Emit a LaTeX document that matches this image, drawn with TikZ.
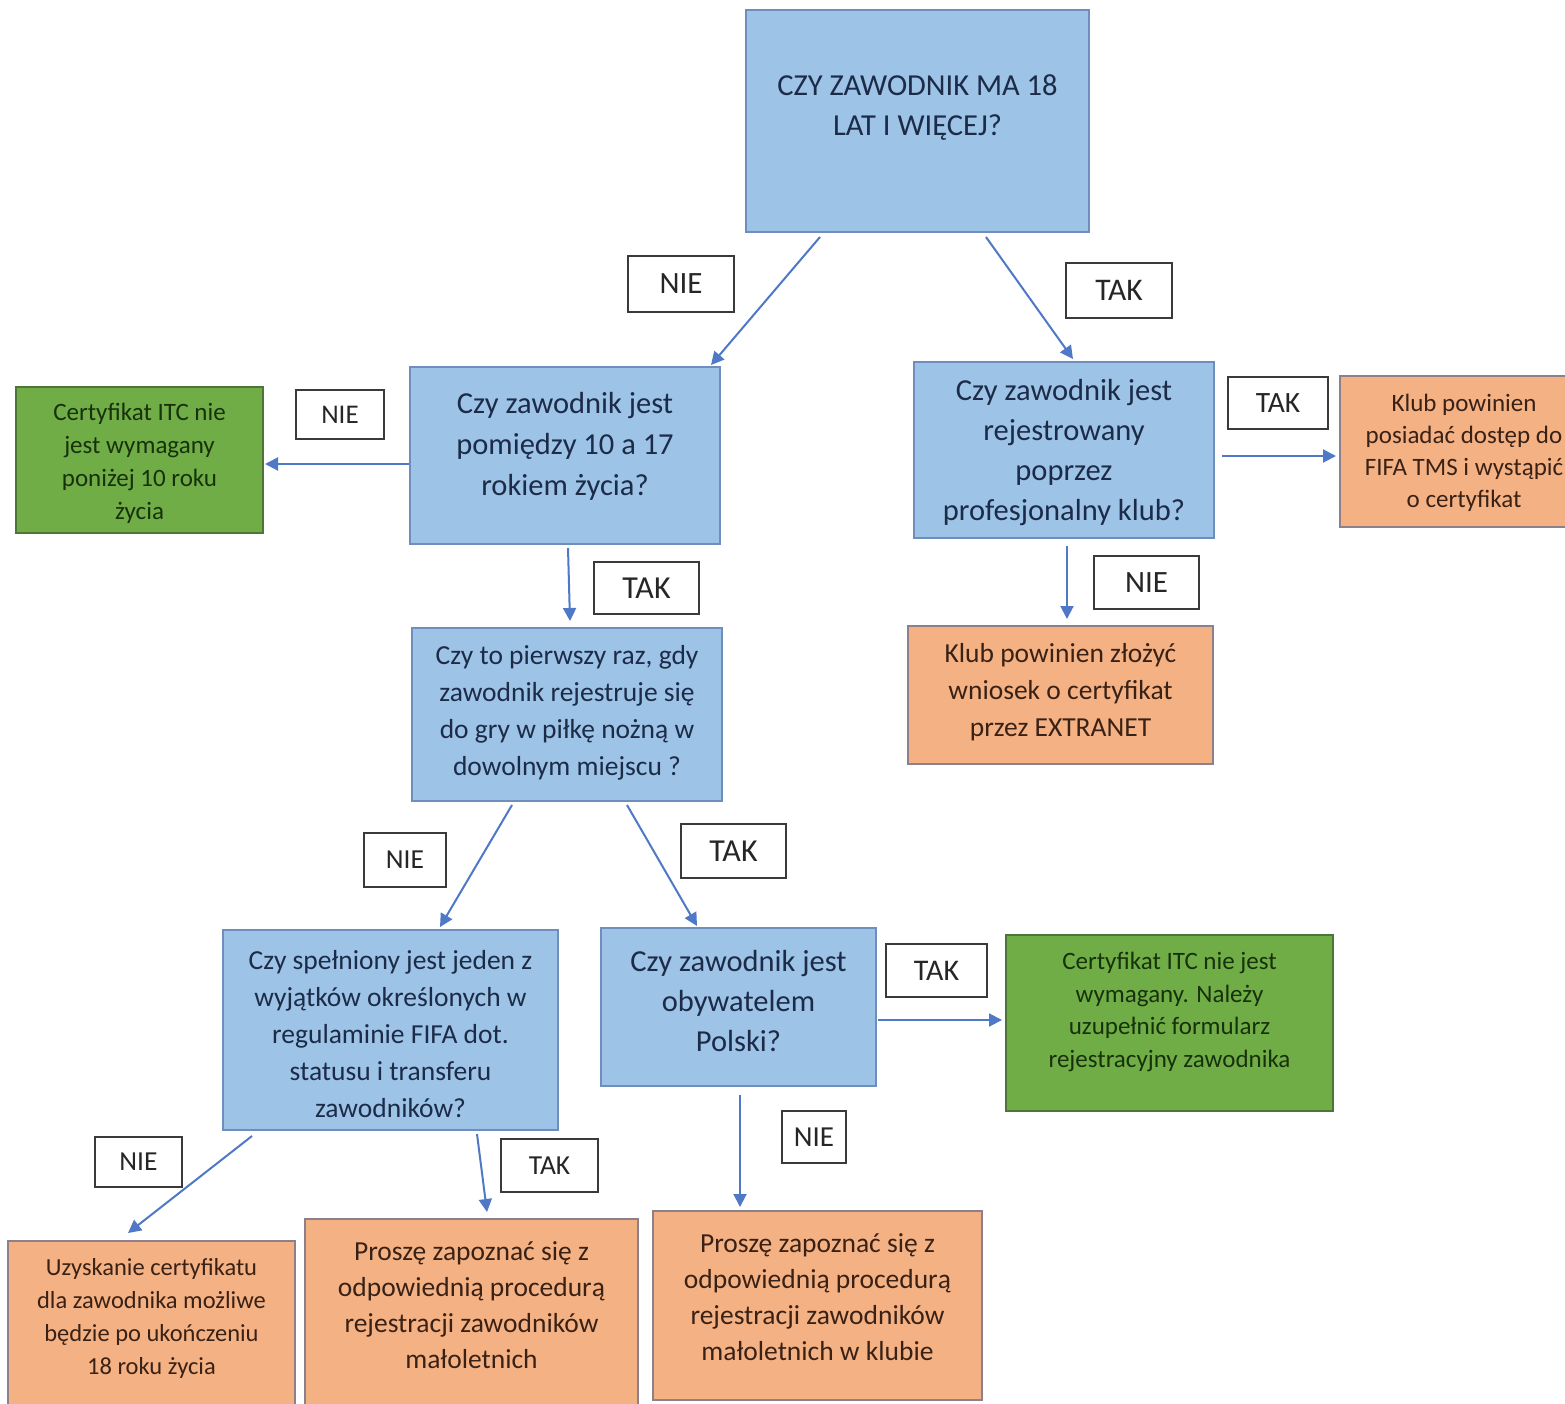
\documentclass[tikz,border=0pt]{standalone}
\usepackage{fontspec}
\setmainfont{Carlito}
\usetikzlibrary{arrows.meta}
\definecolor{bfill}{HTML}{9DC3E6}
\definecolor{bdraw}{HTML}{6F8EBC}
\definecolor{btext}{HTML}{1C2B48}
\definecolor{gfill}{HTML}{70AD47}
\definecolor{gdraw}{HTML}{4D7537}
\definecolor{gtext}{HTML}{17320B}
\definecolor{ofill}{HTML}{F4B183}
\definecolor{odraw}{HTML}{8E8089}
\definecolor{otext}{HTML}{3A2115}
\definecolor{arr}{HTML}{4F78C6}
\definecolor{ldraw}{HTML}{3A3A3A}
\begin{document}
\begin{tikzpicture}[x=1pt,y=-1pt,
  bbox/.style={draw=bdraw,fill=bfill,line width=2pt,inner sep=0pt},
  gbox/.style={draw=gdraw,fill=gfill,line width=2pt,inner sep=0pt},
  obox/.style={draw=odraw,fill=ofill,line width=2pt,inner sep=0pt},
  btxt/.style={align=center,text=btext,inner sep=0pt},
  gtxt/.style={align=center,text=gtext,inner sep=0pt},
  otxt/.style={align=center,text=otext,inner sep=0pt},
  lab/.style={draw=ldraw,fill=white,line width=2pt,inner sep=0pt,text=black!85},
  con/.style={draw=arr,line width=2pt,-{Triangle[length=13pt,width=13pt]}}
]
\useasboundingbox[fill=white] (0,0) rectangle (1565,1403);

% ---- boxes ----
\node[bbox,minimum width=343pt,minimum height=222pt] (top) at (917.5,121) {};
\node[btxt,font=\fontsize{30.5}{40}\selectfont] (topt) at (917.5,108) {CZY ZAWODNIK MA 18\\LAT I WIĘCEJ?};

\node[bbox,minimum width=310pt,minimum height=177pt] (b1) at (565,455.5) {};
\node[btxt,font=\fontsize{30.5}{41}\selectfont] (b1t) at (565,446) {Czy zawodnik jest\\pomiędzy 10 a 17\\rokiem życia?};

\node[gbox,minimum width=247pt,minimum height=146pt] (g1) at (139.5,460) {};
\node[gtxt,font=\fontsize{25}{33}\selectfont] (g1t) at (139.5,463) {Certyfikat ITC nie\\jest wymagany\\poniżej 10 roku\\życia};

\node[bbox,minimum width=300pt,minimum height=176pt] (b2) at (1064,450) {};
\node[btxt,font=\fontsize{30.5}{40}\selectfont] (b2t) at (1064,453) {Czy zawodnik jest\\rejestrowany\\poprzez\\profesjonalny klub?};

\node[obox,minimum width=248pt,minimum height=151pt] (o1) at (1464,451.5) {};
\node[otxt,font=\fontsize{25}{32}\selectfont] (o1t) at (1464,453) {Klub powinien\\posiadać dostęp do\\FIFA TMS i wystąpić\\o certyfikat};

\node[obox,minimum width=305pt,minimum height=138pt] (o2) at (1060.5,695) {};
\node[otxt,font=\fontsize{27.5}{37}\selectfont] (o2t) at (1060.5,692) {Klub powinien złożyć\\wniosek o certyfikat\\przez EXTRANET};

\node[bbox,minimum width=310pt,minimum height=173pt] (b3) at (567,714.5) {};
\node[btxt,font=\fontsize{27.5}{37}\selectfont] (b3t) at (567,713) {Czy to pierwszy raz, gdy\\zawodnik rejestruje się\\do gry w piłkę nożną w\\dowolnym miejscu ?};

\node[bbox,minimum width=335pt,minimum height=200pt] (b4) at (390.5,1030) {};
\node[btxt,font=\fontsize{27.5}{37}\selectfont] (b4t) at (390.5,1034) {Czy spełniony jest jeden z\\wyjątków określonych w\\regulaminie FIFA dot.\\statusu i transferu\\zawodników?};

\node[bbox,minimum width=275pt,minimum height=158pt] (b5) at (738.5,1007) {};
\node[btxt,font=\fontsize{30.5}{40}\selectfont] (b5t) at (738.5,1001) {Czy zawodnik jest\\obywatelem\\Polski?};

\node[gbox,minimum width=327pt,minimum height=176pt] (g2) at (1169.5,1023) {};
\node[gtxt,font=\fontsize{25}{32.5}\selectfont] (g2t) at (1169.5,1012) {Certyfikat ITC nie jest\\wymagany. Należy\\uzupełnić formularz\\rejestracyjny zawodnika};

\node[obox,minimum width=287pt,minimum height=190pt] (o3) at (151.5,1336) {};
\node[otxt,font=\fontsize{24.5}{33}\selectfont] (o3t) at (151.5,1318) {Uzyskanie certyfikatu\\dla zawodnika możliwe\\będzie po ukończeniu\\18 roku życia};

\node[obox,minimum width=333pt,minimum height=200pt] (o4) at (471.5,1319) {};
\node[otxt,font=\fontsize{27.5}{36}\selectfont] (o4t) at (471.5,1305) {Proszę zapoznać się z\\odpowiednią procedurą\\rejestracji zawodników\\małoletnich};

\node[obox,minimum width=329pt,minimum height=189pt] (o5) at (817.5,1305.5) {};
\node[otxt,font=\fontsize{27.5}{36}\selectfont] (o5t) at (817.5,1297) {Proszę zapoznać się z\\odpowiednią procedurą\\rejestracji zawodników\\małoletnich w klubie};

% ---- labels ----
\node[lab,font=\fontsize{31}{36}\selectfont,minimum width=106pt,minimum height=56pt] (l1) at (681,284) {NIE};
\node[lab,font=\fontsize{31.5}{36}\selectfont,minimum width=106pt,minimum height=55pt] (l2) at (1119,290.5) {TAK};
\node[lab,font=\fontsize{27}{32}\selectfont,minimum width=88pt,minimum height=49pt] (l3) at (340,414.5) {NIE};
\node[lab,font=\fontsize{29.5}{34}\selectfont,minimum width=100pt,minimum height=52pt] (l4) at (1278,403) {TAK};
\node[lab,font=\fontsize{32}{36}\selectfont,minimum width=105pt,minimum height=52pt] (l5) at (646.5,588) {TAK};
\node[lab,font=\fontsize{31}{36}\selectfont,minimum width=105pt,minimum height=53pt] (l6) at (1146.5,582.5) {NIE};
\node[lab,font=\fontsize{27.5}{32}\selectfont,minimum width=82pt,minimum height=54pt] (l7) at (405,860) {NIE};
\node[lab,font=\fontsize{32}{36}\selectfont,minimum width=105pt,minimum height=54pt] (l8) at (733.5,851) {TAK};
\node[lab,font=\fontsize{30}{34}\selectfont,minimum width=101pt,minimum height=53pt] (l9) at (936.5,970.5) {TAK};
\node[lab,font=\fontsize{27.5}{32}\selectfont,minimum width=87pt,minimum height=50pt] (l10) at (138.5,1162) {NIE};
\node[lab,font=\fontsize{27.5}{32}\selectfont,minimum width=97pt,minimum height=53pt] (l11) at (549.5,1165.5) {TAK};
\node[lab,font=\fontsize{29}{34}\selectfont,minimum width=64pt,minimum height=52pt] (l12) at (814,1137) {NIE};

% ---- connector start points ----
\coordinate (s1) at (820,237);
\coordinate (s2) at (986,237);
\coordinate (s3) at (409,464);
\coordinate (s4) at (1222,456);
\coordinate (s5) at (568,548);
\coordinate (s6) at (1067,546);
\coordinate (s7) at (512,805);
\coordinate (s8) at (627,805);
\coordinate (s9) at (878,1020);
\coordinate (s10) at (252,1136);
\coordinate (s11) at (477,1134);
\coordinate (s12) at (740,1095);

% ---- connectors ----
\draw[con] (s1) -- ([xshift=-10pt,yshift=1pt]b1.north east);
\draw[con] (s2) -- ([xshift=9pt,yshift=2pt]b2.north);
\draw[con] (s3) -- ([xshift=1pt]g1.east |- s3);
\draw[con] (s4) -- ([xshift=-3pt]o1.west |- s4);
\draw[con] (s5) -- ([xshift=3pt,yshift=6pt]b3.north);
\draw[con] (s6) -- ([xshift=6.5pt,yshift=6pt]o2.north);
\draw[con] (s7) -- ([xshift=49.5pt,yshift=2pt]b4.north);
\draw[con] (s8) -- ([xshift=-41.5pt,yshift=1pt]b5.north);
\draw[con] (s9) -- ([xshift=-3pt]g2.west |- s9);
\draw[con] (s10) -- ([xshift=-23.5pt,yshift=7pt]o3.north);
\draw[con] (s11) -- ([xshift=15.5pt,yshift=6pt]o4.north);
\draw[con] (s12) -- ([yshift=3pt]o5.north -| s12);
\end{tikzpicture}
\end{document}
